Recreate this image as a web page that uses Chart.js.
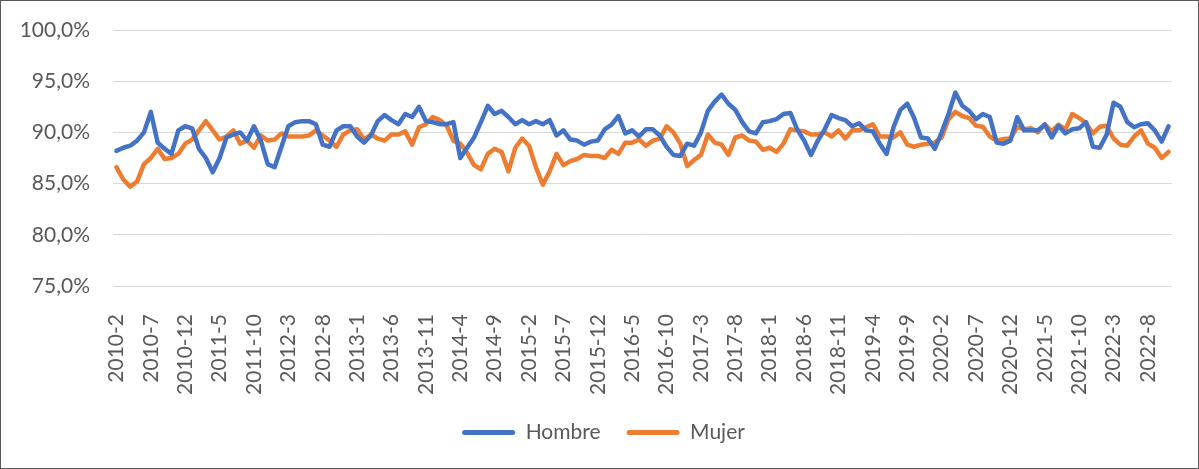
<!DOCTYPE html>
<html>
<head>
<meta charset="utf-8">
<script src="https://cdn.jsdelivr.net/npm/chart.js@4/dist/chart.umd.min.js"></script>
<style>
  html, body { margin: 0; padding: 0; background: #ffffff; }
  #frame { width: 1199px; height: 469px; box-sizing: border-box; border: 1px solid #595959; background: #ffffff; }
  #frame canvas { display: block; }
</style>
</head>
<body>
<div id="frame"><canvas id="c" width="1197" height="467"></canvas></div>
<script>
// Monthly series, February 2010 onwards
const startYear = 2010;
const startMonth = 2;
const monthCount = 154;
const categories = [];
for (let k = 0; k < monthCount; k++) {
  const m = startMonth - 1 + k;
  categories.push(`${startYear + Math.floor(m / 12)}-${(m % 12) + 1}`);
}

// Percentages per month
const hombre = [
  88.2, 88.5, 88.7, 89.2, 90.0, 92.0, 89.0, 88.4, 87.9, 90.2,
  90.6, 90.4, 88.4, 87.5, 86.1, 87.5, 89.5, 89.8, 90.0, 89.2,
  90.6, 89.2, 86.9, 86.6, 88.6, 90.6, 91.0, 91.1, 91.1, 90.8,
  88.8, 88.6, 90.2, 90.6, 90.6, 89.6, 89.0, 89.7, 91.1, 91.7,
  91.2, 90.8, 91.8, 91.5, 92.5, 91.1, 91.0, 90.8, 90.8, 91.0,
  87.5, 88.5, 89.5, 91.0, 92.6, 91.8, 92.1, 91.5, 90.8, 91.2,
  90.8, 91.1, 90.8, 91.2, 89.7, 90.2, 89.3, 89.2, 88.8, 89.1,
  89.2, 90.3, 90.75, 91.6, 89.9, 90.2, 89.6, 90.3, 90.3, 89.7,
  88.6, 87.8, 87.7, 88.9, 88.7, 90.0, 92.1, 93.0, 93.7, 92.8,
  92.2, 91.0, 90.1, 89.9, 91.0, 91.1, 91.3, 91.8, 91.9, 90.3,
  89.2, 87.8, 89.2, 90.3, 91.7, 91.4, 91.2, 90.6, 90.9, 90.2,
  90.1, 88.9, 87.9, 90.5, 92.2, 92.8, 91.4, 89.5, 89.4, 88.4,
  90.0, 91.8, 93.9, 92.6, 92.1, 91.3, 91.8, 91.5, 89.0, 88.9,
  89.2, 91.5, 90.2, 90.2, 90.2, 90.75, 89.5, 90.65, 89.9, 90.3,
  90.4, 91.0, 88.6, 88.5, 89.8, 92.9, 92.5, 91.0, 90.5, 90.8,
  90.9, 90.2, 89.1, 90.6
];
const mujer = [
  86.6, 85.4, 84.7, 85.2, 86.9, 87.5, 88.4, 87.4, 87.5, 87.9,
  88.9, 89.3, 90.2, 91.1, 90.2, 89.3, 89.6, 90.2, 88.9, 89.2,
  88.5, 89.7, 89.2, 89.3, 89.9, 89.6, 89.6, 89.6, 89.7, 90.2,
  89.7, 89.2, 88.6, 89.8, 90.2, 90.3, 89.3, 89.8, 89.4, 89.2,
  89.8, 89.8, 90.1, 88.8, 90.5, 90.8, 91.5, 91.2, 90.7, 89.2,
  88.9, 88.0, 86.8, 86.4, 87.9, 88.4, 88.1, 86.2, 88.5, 89.4,
  88.7, 86.6, 84.9, 86.2, 87.9, 86.8, 87.2, 87.4, 87.8, 87.7,
  87.7, 87.5, 88.3, 87.9, 89.0, 89.0, 89.3, 88.7, 89.2, 89.4,
  90.6, 90.0, 88.9, 86.7, 87.3, 87.8, 89.8, 89.0, 88.8, 87.8,
  89.5, 89.7, 89.2, 89.1, 88.3, 88.5, 88.1, 88.9, 90.3, 90.2,
  90.1, 89.8, 89.8, 90.0, 89.6, 90.2, 89.4, 90.2, 90.2, 90.5,
  90.8, 89.6, 89.6, 89.5, 90.0, 88.8, 88.6, 88.8, 88.9, 89.0,
  89.5, 91.3, 92.0, 91.6, 91.4, 90.65, 90.55, 89.6, 89.2, 89.35,
  89.4, 90.55, 90.3, 90.4, 90.0, 90.8, 90.1, 90.75, 90.3, 91.8,
  91.4, 90.9, 89.9, 90.55, 90.65, 89.4, 88.8, 88.7, 89.6, 90.2,
  88.9, 88.5, 87.5, 88.1
];

const seriesNames = ['Hombre', 'Mujer'];
const seriesColors = ['#4472C4', '#ED7D31'];
const yMin = 75;
const yMax = 100;
const yStep = 5;
const labelEvery = 5;

const textColor = '#595959';
Chart.defaults.font.family = 'Lato, "Open Sans", sans-serif';
Chart.defaults.font.size = 21;
Chart.defaults.color = textColor;

function lineDataset(label, values, color) {
  return {
    label: label,
    data: values,
    borderColor: color,
    backgroundColor: color,
    borderWidth: 4.5,
    pointRadius: 0,
    pointHoverRadius: 0,
    tension: 0,
    fill: false,
    borderJoinStyle: 'round',
    borderCapStyle: 'round'
  };
}

// Centre the legend under the plot area rather than the whole canvas
const legendUnderPlot = {
  id: 'legendUnderPlot',
  afterLayout(chart) {
    const lg = chart.legend;
    if (lg) { lg.left += 34; }
  }
};

new Chart(document.getElementById('c'), {
  type: 'line',
  data: {
    labels: categories,
    datasets: [
      lineDataset(seriesNames[0], hombre, seriesColors[0]),
      lineDataset(seriesNames[1], mujer, seriesColors[1])
    ]
  },
  plugins: [legendUnderPlot],
  options: {
    responsive: false,
    animation: false,
    devicePixelRatio: 1,
    layout: { padding: { top: 29, right: 26, bottom: 15, left: 0 } },
    plugins: {
      tooltip: { enabled: false },
      legend: {
        position: 'bottom',
        labels: {
          boxWidth: 53,
          boxHeight: 5,
          useBorderRadius: true,
          borderRadius: 2.5,
          padding: 26,
          color: textColor,
          font: { size: 21 },
          generateLabels(chart) {
            const items = Chart.defaults.plugins.legend.labels.generateLabels(chart);
            items.forEach(it => { it.lineWidth = 0; it.fillStyle = it.strokeStyle; });
            return items;
          }
        }
      }
    },
    scales: {
      x: {
        offset: true,
        grid: { display: false },
        border: { display: false },
        ticks: {
          autoSkip: false,
          minRotation: 90,
          maxRotation: 90,
          padding: 20,
          color: textColor,
          callback: (v, i) => (i % labelEvery === 0 ? categories[i] : null)
        },
        afterFit: s => { s.height = 110; }
      },
      y: {
        min: yMin,
        max: yMax,
        grid: { color: '#d9d9d9', lineWidth: 1, drawTicks: false },
        border: { display: false },
        ticks: {
          stepSize: yStep,
          padding: 23,
          color: textColor,
          callback: v => v.toFixed(1).replace('.', ',') + '%'
        },
        afterFit: s => { s.width = 112; s.paddingTop = 0; s.paddingBottom = 0; }
      }
    }
  }
});
</script>
</body>
</html>
